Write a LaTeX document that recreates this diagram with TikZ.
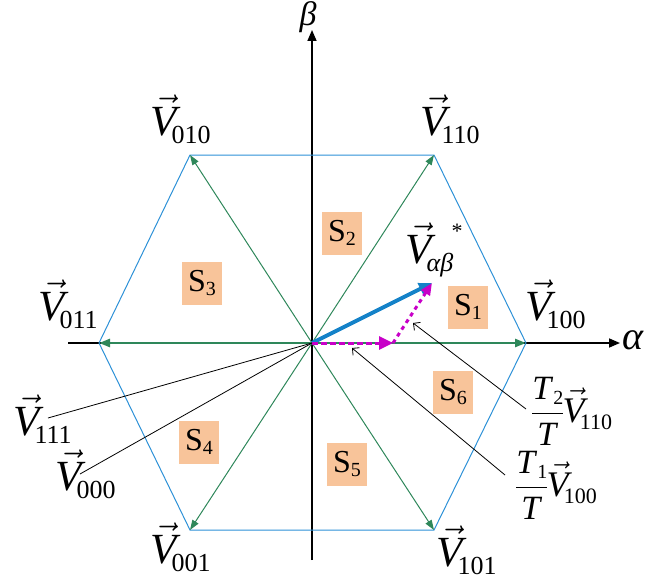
\RequirePackage{fix-cm}
\documentclass[tikz,border=0pt]{standalone}
\usepackage{fontspec}
\setmainfont{Liberation Serif}
\usetikzlibrary{arrows.meta}
\definecolor{hexblue}{RGB}{45,145,215}
\definecolor{vgreen}{RGB}{46,135,90}
\definecolor{vblue}{RGB}{20,130,200}
\definecolor{mag}{RGB}{200,0,200}
\definecolor{sboxc}{RGB}{248,196,154}
\newcommand{\VV}[1]{{\fontsize{43}{43}\selectfont$\vec{\hbox{\textit{V}}}$\kern-9pt\raisebox{-8pt}{\fontsize{26}{26}\selectfont #1}}}
\newcommand{\VVs}[1]{{\fontsize{36}{36}\selectfont$\vec{\hbox{\textit{V}}}$\kern-8pt\raisebox{-7pt}{\fontsize{22}{22}\selectfont #1}}}
\newcommand{\Sect}[1]{{\fontsize{32}{32}\selectfont S\raisebox{-4pt}{\fontsize{20}{20}\selectfont #1}}}
\newcommand{\Tf}[2]{{\fontsize{34}{34}\selectfont$\displaystyle\frac{\hbox{\textit{T}\raisebox{-5pt}{\fontsize{20}{20}\selectfont #1}}}{\hbox{\textit{T}}}$}\kern-2pt\VVs{#2}}
\begin{document}
\begin{tikzpicture}[x=1pt,y=-1pt,
  lab/.style={inner sep=0pt,anchor=base west},
  sbox/.style={fill=sboxc,inner sep=0pt,minimum width=40pt,minimum height=43pt},
  axis/.style={line width=1.6pt,-{Triangle[length=11pt,width=9pt]}},
  hex/.style={hexblue,line width=1pt},
  gthin/.style={vgreen,line width=1pt,-{Triangle[length=10pt,width=7pt]}},
  gthick/.style={vgreen,line width=2.4pt,-{Triangle[length=11pt,width=8pt]}},
  leader/.style={line width=0.8pt},
  leadarr/.style={line width=0.8pt,-{Straight Barb[length=5pt,width=10pt]}}]
\useasboundingbox (0,0) rectangle (645,586);
% vertices
\coordinate (O) at (312,343);
\coordinate (A) at (526,343);
\coordinate (B) at (434,155);
\coordinate (C) at (190,155);
\coordinate (D) at (99,343);
\coordinate (E) at (190,530);
\coordinate (F) at (434,530);
\coordinate (axL) at (68,343);
\coordinate (axR) at (620,343);
\coordinate (axB) at (312,560);
\coordinate (axT) at (312,30);
% axes
\draw[axis] (axL) -- (axR);
\draw[axis] (axB) -- (axT);
% hexagon
\draw[hex] (A) -- (B) -- (C) -- (D) -- (E) -- (F) -- cycle;
% green vectors
\draw[gthin] (O) -- (B);
\draw[gthin] (O) -- (C);
\draw[gthin] (O) -- (E);
\draw[gthin] (O) -- (F);
\draw[gthick] (O) -- (A);
\draw[gthick] (O) -- (D);
% sector boxes
\node[sbox] (s1) at (468,307) {\Sect{1}};
\node[sbox] (s2) at (342,233) {\Sect{2}};
\node[sbox] (s3) at (202,283) {\Sect{3}};
\node[sbox] (s4) at (199,442) {\Sect{4}};
\node[sbox] (s5) at (347,464) {\Sect{5}};
\node[sbox] (s6) at (453,392) {\Sect{6}};
% vertex labels
\node[lab] (v010) at (150,135) {\VV{010}};
\node[lab] (v110) at (420,135) {\VV{110}};
\node[lab] (v100) at (525,320) {\VV{100}};
\node[lab] (v011) at (38,320) {\VV{011}};
\node[lab] (v001) at (150,563) {\VV{001}};
\node[lab] (v101) at (436,566) {\VV{101}};
\node[lab] (v111) at (13,435) {\VV{111}};
\node[lab] (v000) at (55,490) {\VV{000}};
\node[lab] (vab) at (405,263) {\VV{\textit{αβ}}};
\node[inner sep=0pt,anchor=base] (star) at (457,238) {\fontsize{22}{22}\selectfont *};
\node[inner sep=0pt,anchor=base west] (alpha) at (622,349) {\fontsize{40}{40}\selectfont\textit{α}};
\node[inner sep=0pt,anchor=base] (beta) at (308,26) {\fontsize{34}{34}\selectfont\textit{β}};
% reference vector
\coordinate (P) at (432,283);
\coordinate (Q) at (393,343);
\draw[vblue,line width=4pt,-{Triangle[length=13pt,width=12pt]}] (O) -- (P);
\draw[mag,line width=3pt,dash pattern=on 6pt off 3pt,-{Triangle[length=14pt,width=13pt]}] (O) -- (Q);
\draw[mag,line width=3pt,dash pattern=on 4pt off 4pt,-{Triangle[length=12pt,width=10pt]}] (Q) -- (P);
% T labels
\node[lab] (t2) at (531,422) {\Tf{2}{110}};
\node[lab] (t1) at (515,496) {\Tf{1}{100}};
\coordinate (t2tail) at (526,409);
\coordinate (t2tip) at (413,323);
\coordinate (t1tail) at (505,475);
\coordinate (t1tip) at (352,348);
\draw[leadarr] (t2tail) -- (t2tip);
\draw[leadarr] (t1tail) -- (t1tip);
% zero vectors leaders
\coordinate (v111end) at (48,418);
\coordinate (v000end) at (80,474);
\draw[leader] (v111end) -- (O);
\draw[leader] (v000end) -- (O);
\end{tikzpicture}
\end{document}
